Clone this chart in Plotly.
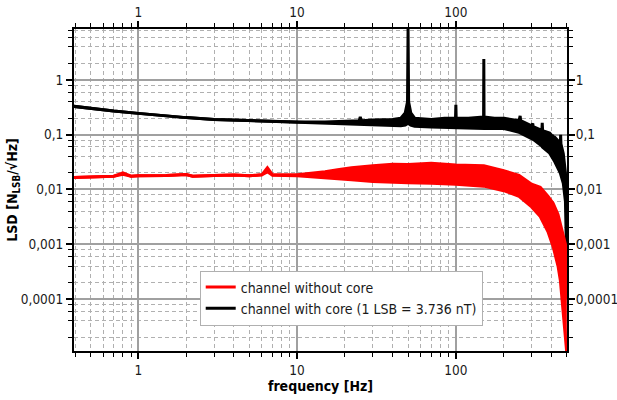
import plotly.graph_objects as go

# ---------------- data ----------------
# channel with core (black): frequency [Hz], lower / upper envelope of the noise band
black_f = [0.39, 0.5, 0.7, 1.0, 1.5, 2, 3, 5, 7, 10, 15, 20, 24.6, 25, 25.4, 30, 40, 45, 48,
           49.6, 50, 50.4, 52, 55, 70, 85, 99.5, 100, 100.5, 120, 149.5, 150, 150.5, 175,
           199.5, 200, 200.5, 250, 254, 256, 300, 305, 307, 348, 350, 352, 390,
           405, 406, 408, 420, 455, 457, 459, 475, 490, 496, 499, 500]
black_lo = [0.33, 0.30, 0.27, 0.245, 0.22, 0.205, 0.19, 0.18, 0.175, 0.17, 0.165, 0.16, 0.155, 0.155, 0.155,
            0.15, 0.147, 0.145, 0.15,
            0.16, 0.18, 0.16, 0.15, 0.142, 0.138, 0.135, 0.133, 0.133, 0.133, 0.132, 0.13, 0.13, 0.13, 0.13,
            0.13, 0.13, 0.13, 0.11, 0.108, 0.107, 0.085, 0.083, 0.082, 0.062, 0.06, 0.059, 0.046,
            0.038, 0.037, 0.036, 0.032, 0.02, 0.019, 0.018, 0.013, 0.006, 0.002, 0.0005, 0.0003]
black_hi = [0.33, 0.30, 0.27, 0.245, 0.22, 0.205, 0.19, 0.18, 0.175, 0.17, 0.17, 0.175, 0.18, 0.21, 0.18,
            0.185, 0.19, 0.2, 0.25,
            0.4, 8.5, 0.4, 0.25, 0.2, 0.19, 0.2, 0.2, 0.35, 0.2, 0.2, 0.21, 2.4, 0.21, 0.2,
            0.2, 0.21, 0.2, 0.18, 0.22, 0.18, 0.145, 0.16, 0.14, 0.12, 0.165, 0.118, 0.107,
            0.095, 0.1, 0.093, 0.09, 0.07, 0.1, 0.068, 0.045, 0.02, 0.008, 0.002, 0.001]

# channel without core (red)
red_f = [0.39, 0.5, 0.7, 0.8, 0.9, 1.0, 1.5, 2, 2.2, 3, 4, 5, 6, 6.5, 7, 10, 12, 15, 18, 22,
         30, 40, 50, 70, 100, 150, 200, 250, 300, 340, 380, 410, 440, 455, 470, 480, 490, 495, 499, 500]
red_lo = [0.0165, 0.0168, 0.0175, 0.019, 0.0175, 0.0178, 0.018, 0.0188, 0.0175, 0.018, 0.0183, 0.0178,
          0.0185, 0.021, 0.0182, 0.0178, 0.0172, 0.0165, 0.0155, 0.015,
          0.014, 0.0135, 0.0132, 0.013, 0.0125, 0.0115, 0.0095, 0.0075, 0.0048, 0.0032, 0.0017, 0.0009, 0.0004,
          0.00022, 0.00008, 0.00004, 0.00002, 0.000012, 0.00001, 0.00001]
red_hi = [0.0165, 0.0168, 0.0175, 0.02, 0.0175, 0.0178, 0.018, 0.0188, 0.0175, 0.018, 0.0183, 0.0178,
          0.0185, 0.025, 0.0185, 0.0185, 0.0195, 0.021, 0.023, 0.025,
          0.027, 0.029, 0.0285, 0.03, 0.028, 0.027, 0.022, 0.018, 0.0125, 0.011, 0.0075, 0.0056, 0.0035,
          0.0024, 0.0016, 0.0012, 0.001, 0.0006, 0.0002, 0.0001]

x_tick_vals = [1, 10, 100]
x_tick_text = ["1", "10", "100"]
y_tick_vals = [1, 0.1, 0.01, 0.001, 0.0001]
y_tick_text = ["1", "0,1", "0,01", "0,001", "0,0001"]

# ---------------- figure ----------------
FONT = "Tahoma, 'DejaVu Sans Condensed', 'Liberation Sans', sans-serif"
X_RANGE = [-0.405, 2.70]
Y_RANGE = [-4.95, 0.93]

x_minor = [m * 10 ** k for k in range(-1, 3) for m in range(2, 10)]
y_minor = [m * 10 ** k for k in range(-6, 1) for m in (2, 4, 6, 8)]

fig = go.Figure()


def band(f, lo, hi, color, name, rank):
    fig.add_trace(go.Scatter(x=f, y=lo, mode="lines", line=dict(color=color, width=3),
                             name=name, legendrank=rank, hoverinfo="skip"))
    fig.add_trace(go.Scatter(x=f, y=hi, mode="lines", line=dict(color=color, width=3),
                             fill="tonexty", fillcolor=color, showlegend=False, hoverinfo="skip"))


band(black_f, black_lo, black_hi, "#000000", "channel with core (1 LSB = 3.736 nT)", 2)
band(red_f, red_lo, red_hi, "#ff0000", "channel without core", 1)

# invisible trace carrying the mirrored (top / right) axes
fig.add_trace(go.Scatter(x=black_f, y=black_lo, xaxis="x2", yaxis="y2", mode="lines",
                         opacity=0, showlegend=False, hoverinfo="skip"))

grid_major = "#a0a0a0"
grid_minor = "#b0b0b0"
tickfont = dict(family=FONT, size=13.5, color="#1a1a1a")
titlefont = dict(family=FONT, size=14, color="black")

fig.update_layout(
    width=617, height=400,
    margin=dict(l=74, r=50, t=29, b=49, autoexpand=False),
    paper_bgcolor="white", plot_bgcolor="white",
    font=dict(family=FONT, size=14, color="#1a1a1a"),
    xaxis=dict(type="log", range=X_RANGE, tickmode="array", tickvals=x_tick_vals, ticktext=x_tick_text,
               ticks="outside", ticklen=6, tickwidth=1.5, tickcolor="black", automargin=False,
               showline=True, linecolor="black", linewidth=2, mirror="ticks",
               showgrid=True, gridcolor=grid_major, gridwidth=1.5, zeroline=False,
               tickfont=tickfont,
               minor=dict(tickmode="array", tickvals=x_minor, ticks="outside", ticklen=4,
                          tickcolor="black", tickwidth=1.2, showgrid=True, gridcolor=grid_minor,
                          griddash="4px,3px", gridwidth=1),
               title=dict(text="<b>frequency [Hz]</b>", font=titlefont, standoff=0)),
    yaxis=dict(type="log", range=Y_RANGE, tickmode="array", tickvals=y_tick_vals, ticktext=y_tick_text,
               ticks="outside", ticklen=6, tickwidth=1.5, tickcolor="black", automargin=False,
               showline=True, linecolor="black", linewidth=2, mirror="ticks",
               showgrid=True, gridcolor=grid_major, gridwidth=1.5, zeroline=False,
               tickfont=tickfont,
               minor=dict(tickmode="array", tickvals=y_minor, ticks="outside", ticklen=4,
                          tickcolor="black", tickwidth=1.2, showgrid=True, gridcolor=grid_minor,
                          griddash="4px,3px", gridwidth=1),
               title=dict(text="<b>LSD [N<sub>LSB</sub>/√Hz]</b>", font=titlefont, standoff=0)),
    xaxis2=dict(type="log", range=X_RANGE, overlaying="x", side="top", anchor="y", automargin=False,
                tickmode="array", tickvals=x_tick_vals, ticktext=x_tick_text,
                ticks="outside", ticklen=6, tickwidth=1.5, tickcolor="black",
                showgrid=False, showline=False, zeroline=False, tickfont=tickfont),
    yaxis2=dict(type="log", range=Y_RANGE, overlaying="y", side="right", anchor="x", automargin=False,
                tickmode="array", tickvals=y_tick_vals, ticktext=y_tick_text,
                ticks="outside", ticklen=5, tickwidth=1.5, tickcolor="black",
                showgrid=False, showline=False, zeroline=False, tickfont=tickfont),
    legend=dict(x=0.255, y=0.25, xanchor="left", yanchor="top", bgcolor="white",
                bordercolor="#b0b0b0", borderwidth=1, font=dict(family=FONT, size=14, color="#1a1a1a"),
                tracegroupgap=0, itemwidth=30, traceorder="normal"),
    showlegend=True,
)

fig.write_html("out.html", config={"displayModeBar": False},
               post_script="document.body.style.margin='0';document.body.style.padding='0';")
